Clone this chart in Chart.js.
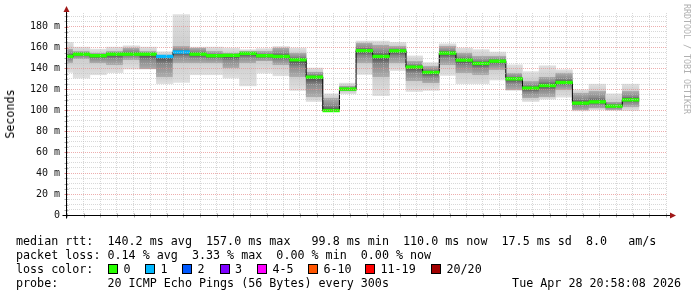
<!DOCTYPE html>
<html>
<head>
<meta charset="utf-8">
<script src="https://cdn.jsdelivr.net/npm/chart.js@4.4.1/dist/chart.umd.min.js"></script>
<style>
  html, body { margin: 0; padding: 0; background: #fff; }
  #wrap { position: relative; width: 697px; height: 297px; overflow: hidden; background: #fff; }
  #chart { position: absolute; left: 0; top: 0; }
  .txt {
    position: absolute; margin: 0; white-space: pre; color: #000;
    font-family: "DejaVu Sans Mono", monospace; font-size: 11.7px; line-height: 14px;
  }
  .box { position: absolute; width: 8px; height: 8px; border: 1px solid #000; }
  #ylab { left: 10px; top: 114px; transform: translate(-50%, -50%) rotate(-90deg); }
  #credit {
    left: 682px; top: 4px; writing-mode: vertical-rl;
    font-size: 8.3px; line-height: 10px; color: #b0b0b0;
  }
</style>
</head>
<body>
<div id="wrap">
  <canvas id="chart" width="697" height="297"></canvas>
  <div class="txt" id="ylab">Seconds</div>
  <div class="txt" id="credit">RRDTOOL / TOBI OETIKER</div>
  <div class="txt" id="row1" style="left:16px; top:234px;"></div>
  <div class="txt" id="row2" style="left:16px; top:248px;"></div>
  <div class="txt" id="row3" style="left:16px; top:262px;">loss color:</div>
  <div class="txt" id="row4" style="left:16px; top:276px;"></div>
  <div class="txt" id="stamp" style="right:16px; top:276px;"></div>
</div>
<script>
/* ----------------------------- */
/* DATA                          */
/* ----------------------------- */
// 5 minute buckets, first one is cut by the graph start
const bucketStarts = [
  "17:55", "18:00", "18:05", "18:10", "18:15", "18:20", "18:25", "18:30", "18:35",
  "18:40", "18:45", "18:50", "18:55", "19:00", "19:05", "19:10", "19:15", "19:20",
  "19:25", "19:30", "19:35", "19:40", "19:45", "19:50", "19:55", "20:00", "20:05",
  "20:10", "20:15", "20:20", "20:25", "20:30", "20:35", "20:40", "20:45",
];
const bucketEnd = "20:50";
const viewStart = "17:58:08";
const viewEnd = "20:58:08";

// median rtt (ms)
const medianRtt = [
  151.5, 153.7, 152.2, 153.7, 153.7, 153.7, 151.5, 155.7, 153.7,
  152.2, 152.5, 154.4, 152.2, 151.5, 148.3, 131.7, 99.8, 120.3,
  157.0, 151.5, 156.8, 141.3, 136.2, 154.7, 148.0, 144.8, 147.0,
  130.1, 121.2, 123.7, 126.6, 106.9, 108.1, 104.0, 110.0,
];
// lost pings per bucket
const lossCount = [
  0, 0, 0, 0, 0, 0, 1, 1, 0,
  0, 0, 0, 0, 0, 0, 0, 0, 0,
  0, 0, 0, 0, 0, 0, 0, 0, 0,
  0, 0, 0, 0, 0, 0, 0, 0,
];
// smoke: fastest / slowest ping
const smokeMin = [
  136.2, 130.8, 134.0, 136.0, 139.4, 139.4, 125.4, 126.6, 134.0,
  134.0, 130.8, 123.4, 135.6, 133.0, 119.0, 108.4, 99.5, 115.8,
  134.3, 113.9, 138.0, 118.0, 119.0, 133.3, 125.4, 125.4, 129.0,
  119.0, 108.4, 110.7, 112.6, 99.5, 100.5, 99.8, 99.8,
];
const smokeMax = [
  165.0, 160.4, 158.5, 160.4, 161.7, 160.4, 156.0, 191.4, 160.4,
  160.4, 159.5, 158.0, 159.0, 161.0, 159.5, 140.4, 115.8, 126.0,
  166.2, 166.2, 165.0, 152.0, 145.7, 163.6, 159.5, 158.0, 155.7,
  143.5, 137.0, 142.6, 138.8, 119.6, 125.0, 115.8, 125.0,
];
// smoke: dark core around the median
const coreLow = [
  145.7, 149.0, 145.2, 143.5, 148.3, 139.4, 132.3, 145.2, 145.2,
  145.2, 140.4, 145.2, 146.7, 143.5, 132.3, 113.2, 99.6, 118.0,
  145.2, 132.3, 145.2, 127.6, 126.0, 143.5, 135.6, 134.0, 138.8,
  119.6, 111.7, 113.2, 119.6, 100.5, 102.0, 100.5, 103.6,
];
const coreHigh = [
  158.5, 156.3, 154.7, 156.3, 159.5, 156.3, 153.0, 161.0, 159.5,
  156.3, 154.7, 156.3, 156.3, 159.5, 154.7, 137.0, 111.7, 123.4,
  164.3, 162.7, 161.0, 146.7, 141.9, 161.0, 154.7, 151.5, 151.5,
  135.6, 127.6, 132.3, 135.6, 116.5, 118.0, 108.4, 118.0,
];

const lossLabels = ["0", "1", "2", "3", "4-5", "6-10", "11-19", "20/20"];
const lossLimits = [0, 1, 2, 3, 5, 10, 19, 20];
const lossColors = ["#26ff00", "#00b8ff", "#0059ff", "#7e00ff", "#ff00ff", "#ff5500", "#ff0000", "#a10000"];

const rttStats = [140.2, 157.0, 99.8, 110.0]; // avg max min now
const rttSd = 17.5;
const rttAmS = 8.0;
const lossStats = [0.14, 3.33, 0.0, 0.0]; // avg max min now
const probeText = "20 ICMP Echo Pings (56 Bytes) every 300s";
const stampText = "Tue Apr 28 20:58:08 2026";

/* ----------------------------- */
/* HELPERS                       */
/* ----------------------------- */
const toMin = (s) => {
  const p = s.split(":").map(Number);
  return (p[0] - 18) * 60 + p[1] + (p[2] || 0) / 60;
};
const toLabel = (m) => {
  const t = 18 * 60 + m;
  return String(Math.floor(t / 60)).padStart(2, "0") + ":" + String(t % 60).padStart(2, "0");
};
const lossColor = (n) => lossColors[lossLimits.findIndex((l) => n <= l)];
const bucketMid = bucketStarts.map((s) => toMin(s) + 2.5);

const smokeFill = (c) => {
  if (c.type !== "data") return "#d8d8d8";
  const ys = c.chart.scales.y;
  const i = c.dataIndex;
  const top = ys.getPixelForValue(smokeMax[i]);
  const bot = ys.getPixelForValue(smokeMin[i]);
  if (!isFinite(top) || !isFinite(bot) || bot - top < 1) return "#d8d8d8";
  const pos = (v) => Math.min(1, Math.max(0, (ys.getPixelForValue(v) - top) / (bot - top)));
  const pHi = pos(coreHigh[i]);
  const pMed = Math.max(pHi, pos(medianRtt[i]));
  const pLo = Math.max(pMed, pos(coreLow[i]));
  const g = c.chart.ctx.createLinearGradient(0, top, 0, bot);
  g.addColorStop(0, "#e0e0e0");
  g.addColorStop(pHi, "#cecece");
  g.addColorStop(pHi, "#adadad");
  g.addColorStop(pHi + (pMed - pHi) * 0.6, "#8a8a8a");
  g.addColorStop(pMed, "#444");
  g.addColorStop(pMed + (pLo - pMed) * 0.4, "#8a8a8a");
  g.addColorStop(pLo, "#adadad");
  g.addColorStop(pLo, "#cecece");
  g.addColorStop(1, "#e0e0e0");
  return g;
};

const majorGrid = "rgba(230,140,140,0.7)";
const minorGrid = "rgba(190,190,190,0.6)";

/* ----------------------------- */
/* AXES PLUGIN (arrows, marks)   */
/* ----------------------------- */
const rrdAxes = {
  id: "rrdAxes",
  afterDraw(chart) {
    const { ctx, chartArea: a, scales } = chart;
    const ax = Math.round(a.left) - 0.5;
    const ay = Math.round(a.bottom) + 0.5;
    ctx.save();
    ctx.lineWidth = 1;
    scales.x.ticks.forEach((t) => {
      const px = Math.round(scales.x.getPixelForValue(t.value)) + 0.5;
      ctx.strokeStyle = t.value % 20 === 0 ? "#d88080" : "#aaa";
      ctx.beginPath();
      ctx.moveTo(px, ay - 2);
      ctx.lineTo(px, ay + 2);
      ctx.stroke();
    });
    scales.y.ticks.forEach((t) => {
      const py = Math.round(scales.y.getPixelForValue(t.value)) + 0.5;
      ctx.strokeStyle = t.value % 20 === 0 ? "#d88080" : "#aaa";
      ctx.beginPath();
      ctx.moveTo(ax - 2, py);
      ctx.lineTo(ax + 2, py);
      ctx.stroke();
    });
    ctx.strokeStyle = "#000";
    ctx.beginPath();
    ctx.moveTo(ax, ay + 3);
    ctx.lineTo(ax, a.top - 3);
    ctx.moveTo(ax - 4, ay);
    ctx.lineTo(a.right + 5, ay);
    ctx.stroke();
    ctx.fillStyle = "#a01818";
    ctx.beginPath();
    ctx.moveTo(ax, a.top - 7);
    ctx.lineTo(ax - 3, a.top - 1);
    ctx.lineTo(ax + 3, a.top - 1);
    ctx.closePath();
    ctx.fill();
    ctx.beginPath();
    ctx.moveTo(a.right + 10, ay);
    ctx.lineTo(a.right + 4, ay - 3);
    ctx.lineTo(a.right + 4, ay + 3);
    ctx.closePath();
    ctx.fill();
    ctx.restore();
  },
};

/* ----------------------------- */
/* CHART                         */
/* ----------------------------- */
const tickFont = { family: "'DejaVu Sans Mono', monospace", size: 10 };

new Chart(document.getElementById("chart"), {
  type: "bar",
  data: {
    datasets: [
      {
        label: "smoke",
        data: bucketMid.map((x, i) => ({ x, y: [smokeMin[i], smokeMax[i]] })),
        backgroundColor: smokeFill,
        borderWidth: 0,
        barPercentage: 1,
        categoryPercentage: 1,
        grouped: false,
        clip: 0,
        order: 3,
      },
      {
        type: "line",
        label: "median step",
        data: bucketStarts
          .map((s, i) => ({ x: toMin(s), y: medianRtt[i] }))
          .concat([{ x: toMin(bucketEnd), y: medianRtt[medianRtt.length - 1] }]),
        stepped: true,
        borderColor: "#000",
        borderWidth: 1,
        pointRadius: 0,
        fill: false,
        clip: 0,
        order: 2,
      },
      {
        label: "median rtt",
        data: bucketMid.map((x, i) => ({ x, y: [medianRtt[i] - 1.3, medianRtt[i] + 1.3] })),
        backgroundColor: lossCount.map(lossColor),
        borderWidth: 0,
        barPercentage: 1,
        categoryPercentage: 1,
        grouped: false,
        clip: 0,
        order: 1,
      },
    ],
  },
  options: {
    responsive: false,
    animation: false,
    events: [],
    layout: { padding: { left: 0, right: 31, top: 13, bottom: 62 } },
    plugins: { legend: { display: false }, tooltip: { enabled: false } },
    scales: {
      x: {
        type: "linear",
        min: toMin(viewStart),
        max: toMin(viewEnd),
        offset: false,
        afterFit: (s) => { s.height = 20; },
        grid: {
          offset: false,
          drawTicks: false,
          z: 1,
          color: (c) => (c.tick && c.tick.value % 20 === 0 ? majorGrid : minorGrid),
        },
        border: { display: false, dash: [1, 1] },
        ticks: {
          stepSize: 5,
          includeBounds: false,
          autoSkip: false,
          maxRotation: 0,
          padding: 4,
          font: tickFont,
          color: "#111",
          callback: (v) => (v % 20 === 0 ? toLabel(v) : ""),
        },
      },
      y: {
        type: "linear",
        min: 0,
        max: 193,
        afterFit: (s) => { s.width = 67; },
        grid: {
          drawTicks: false,
          z: 1,
          color: (c) => (c.tick && c.tick.value % 20 === 0 ? majorGrid : minorGrid),
        },
        border: { display: false, dash: [1, 1] },
        ticks: {
          stepSize: 5,
          includeBounds: false,
          autoSkip: false,
          padding: 7,
          font: tickFont,
          color: "#111",
          callback: (v) => (v % 20 === 0 ? (v === 0 ? "0" : v + " m") : ""),
        },
      },
    },
  },
  plugins: [rrdAxes],
});

/* ----------------------------- */
/* LEGEND TEXT                   */
/* ----------------------------- */
const f1 = (v) => v.toFixed(1).padStart(5);
const f2 = (v) => v.toFixed(2);
document.getElementById("row1").textContent =
  "median rtt:  " + f1(rttStats[0]) + " ms avg  " + f1(rttStats[1]) + " ms max  " +
  f1(rttStats[2]) + " ms min  " + f1(rttStats[3]) + " ms now  " +
  rttSd.toFixed(1) + " ms sd  " + rttAmS.toFixed(1) + "   am/s";
document.getElementById("row2").textContent =
  "packet loss: " + f2(lossStats[0]) + " % avg  " + f2(lossStats[1]) + " % max  " +
  f2(lossStats[2]) + " % min  " + f2(lossStats[3]) + " % now";
document.getElementById("row4").textContent = "probe:       " + probeText;
document.getElementById("stamp").textContent = stampText;

const boxX = [108, 145, 182, 219.5, 257, 308, 365, 431];
const wrap = document.getElementById("wrap");
lossLabels.forEach((lab, i) => {
  const b = document.createElement("div");
  b.className = "box";
  b.style.left = boxX[i] + "px";
  b.style.top = "264px";
  b.style.background = lossColors[i];
  wrap.appendChild(b);
  const t = document.createElement("div");
  t.className = "txt";
  t.style.left = boxX[i] + 15.5 + "px";
  t.style.top = "262px";
  t.textContent = lab;
  wrap.appendChild(t);
});
</script>
</body>
</html>
